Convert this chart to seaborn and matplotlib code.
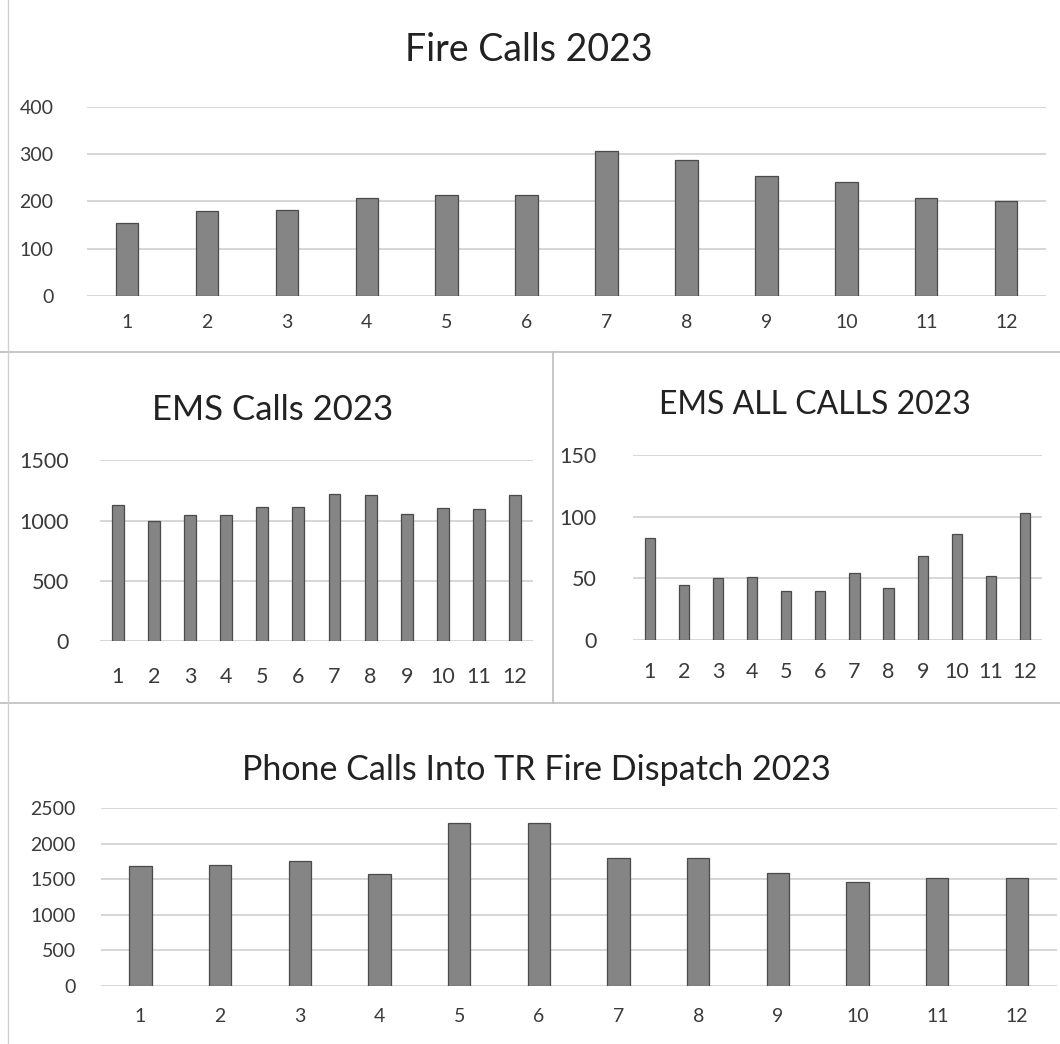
import matplotlib
matplotlib.use("Agg")
import matplotlib.pyplot as plt
import seaborn as sns
import pandas as pd

sns.set_theme(style="white")
plt.rcParams['font.family'] = ['Lato', 'DejaVu Sans']

months = [str(m) for m in range(1, 13)]

fire_calls = [155, 180, 183, 207, 213, 214, 306, 287, 254, 242, 208, 200]
ems_calls = [1130, 1000, 1050, 1050, 1110, 1110, 1225, 1210, 1055, 1105, 1095, 1210]
ems_all_calls = [83, 45, 50, 51, 40, 40, 54, 42, 68, 86, 52, 103]
phone_calls = [1690, 1700, 1760, 1570, 2290, 2290, 1800, 1800, 1590, 1460, 1520, 1510]

bar_color = "#858585"
edge_color = "#4a4a4a"
grid_color = "#cfcfcf"
text_color = "#3a3a3a"

fig = plt.figure(figsize=(10.6, 10.44), dpi=100)


def draw(rect, values, ymax, step, title, title_xy, title_size, width,
         tick_size, xpad, ypad):
    ax = fig.add_axes(rect)
    df = pd.DataFrame({"month": months, "calls": values})
    sns.barplot(data=df, x="month", y="calls", color=bar_color, width=width,
                edgecolor=edge_color, linewidth=0.9, saturation=1, ax=ax)
    ax.set_ylim(0, ymax)
    ax.set_xlim(-0.5, 11.5)
    ax.set_yticks(range(0, ymax + 1, step))
    ax.yaxis.grid(True, color=grid_color, linewidth=1.2)
    ax.set_axisbelow(True)
    for s in ax.spines.values():
        s.set_visible(False)
    ax.set_xlabel("")
    ax.set_ylabel("")
    ax.tick_params(axis="both", length=0, labelsize=tick_size, colors=text_color)
    ax.tick_params(axis="x", pad=xpad)
    ax.tick_params(axis="y", pad=ypad)
    fig.text(title_xy[0], title_xy[1], title, ha="center", va="center",
             fontsize=title_size, color="#222222")
    return ax


draw([0.082, 0.7165, 0.905, 0.181], fire_calls, 400, 100,
     "Fire Calls 2023", (529 / 1060, 1 - 50 / 1044), 27, 0.28, 14, 13, 24)
draw([0.094, 0.386, 0.409, 0.173], ems_calls, 1500, 500,
     "EMS Calls 2023", (273 / 1060, 1 - 410 / 1044), 25, 0.33, 15.5, 19, 22)
draw([0.597, 0.387, 0.386, 0.177], ems_all_calls, 150, 50,
     "EMS ALL CALLS 2023", (815 / 1060, 1 - 405 / 1044), 23, 0.3, 15.5, 16, 26)
draw([0.095, 0.0556, 0.902, 0.1705], phone_calls, 2500, 500,
     "Phone Calls Into TR Fire Dispatch 2023", (536 / 1060, 1 - 770 / 1044), 24.5,
     0.28, 14, 16, 18)

# panel borders from the scanned page
sep = dict(color="#bdbdbd", linewidth=1.2)
fig.add_artist(plt.Line2D([0, 1], [1 - 352 / 1044] * 2, **sep))
fig.add_artist(plt.Line2D([0, 1], [1 - 703 / 1044] * 2, **sep))
fig.add_artist(plt.Line2D([553 / 1060] * 2, [1 - 703 / 1044, 1 - 352 / 1044], **sep))
fig.add_artist(plt.Line2D([8 / 1060] * 2, [0, 1], color="#d0d0d0", linewidth=1))

fig.savefig("out.png", dpi=100, facecolor="white")
